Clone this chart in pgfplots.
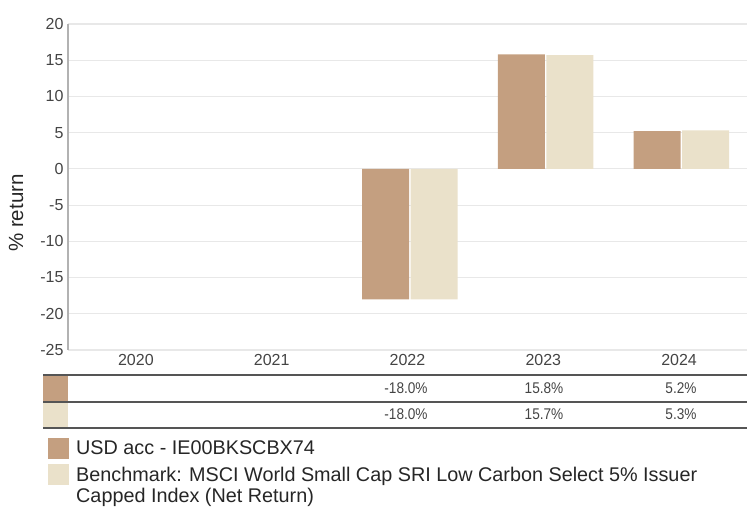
\documentclass[border=0pt]{standalone}
\usepackage{pgfplots}
\pgfplotsset{compat=1.18}
\usepackage{fontspec}
\setmainfont{Liberation Sans}
\newfontfamily\narrowfont[FakeStretch=0.88]{Liberation Sans}
\definecolor{fundc}{HTML}{C49F80}
\definecolor{benchc}{HTML}{EAE1CA}
\definecolor{gridc}{HTML}{E8E8E8}
\definecolor{textc}{HTML}{444444}
\definecolor{tablec}{HTML}{555555}
\begin{document}
\begin{tikzpicture}[x=1pt,y=1pt]
\path[use as bounding box] (0,0) rectangle (747,507);
\begin{axis}[
  at={(68pt,157pt)}, anchor=south west,
  scale only axis, width=679pt, height=326pt,
  ybar, bar width=47pt,
  xmin=-0.5, xmax=4.5, ymin=-25, ymax=20,
  xtick={0,1,2,3,4},
  xticklabels={2020,2021,2022,2023,2024},
  ytick={-25,-20,...,20},
  ymajorgrids, grid style={gridc, line width=1.2pt},
  axis lines*=left,
  x axis line style={gridc, line width=1.2pt, -},
  y axis line style={draw=black!30, line width=1.2pt, -},
  major tick length=0pt,
  /pgf/number format/assume math mode=true,
  ticklabel style={font=\fontsize{16}{19}\selectfont, text=textc},
  yticklabel style={xshift=-1pt},
  xticklabel style={yshift=-1pt},
  clip=false,
]
\addplot[fill=fundc, draw=none, bar shift=-22pt] coordinates {(2,-18.0) (3,15.8) (4,5.2)};
\addplot[fill=benchc, draw=none, bar shift=26.5pt] coordinates {(2,-18.0) (3,15.7) (4,5.3)};
\end{axis}
% y label
\node[rotate=90, text=black!85, font=\fontsize{20.5}{24}\selectfont] at (16,294) {\% return};
% table
\draw[tablec, line width=1.5pt] (43,132) -- (747,132);
\draw[tablec, line width=1.5pt] (43,105) -- (747,105);
\draw[tablec, line width=1.5pt] (43,79) -- (747,79);
\fill[fundc] (43,106) rectangle (68,131);
\fill[benchc] (43,80) rectangle (68,104);
\foreach \x/\v in {406/-18.0\%, 544/15.8\%, 681/5.2\%}
  \node[text=textc, font=\narrowfont\fontsize{15.5}{18}\selectfont] at (\x,119) {\v};
\foreach \x/\v in {406/-18.0\%, 544/15.7\%, 681/5.3\%}
  \node[text=textc, font=\narrowfont\fontsize{15.5}{18}\selectfont] at (\x,93) {\v};
% legend
\fill[fundc] (48,48) rectangle (69,69);
\fill[benchc] (48,22) rectangle (69,43);
\node[anchor=base west, inner sep=0pt, text=black!85, font=\fontsize{19.8}{22}\selectfont] at (76,53) {USD acc - IE00BKSCBX74};
\node[anchor=base west, inner sep=0pt, text=black!85, font=\fontsize{19.8}{22}\selectfont] at (76,26) {Benchmark: MSCI World Small Cap SRI Low Carbon Select 5\% Issuer};
\node[anchor=base west, inner sep=0pt, text=black!85, font=\fontsize{19.8}{22}\selectfont] at (76,5) {Capped Index (Net Return)};
\end{tikzpicture}
\end{document}
